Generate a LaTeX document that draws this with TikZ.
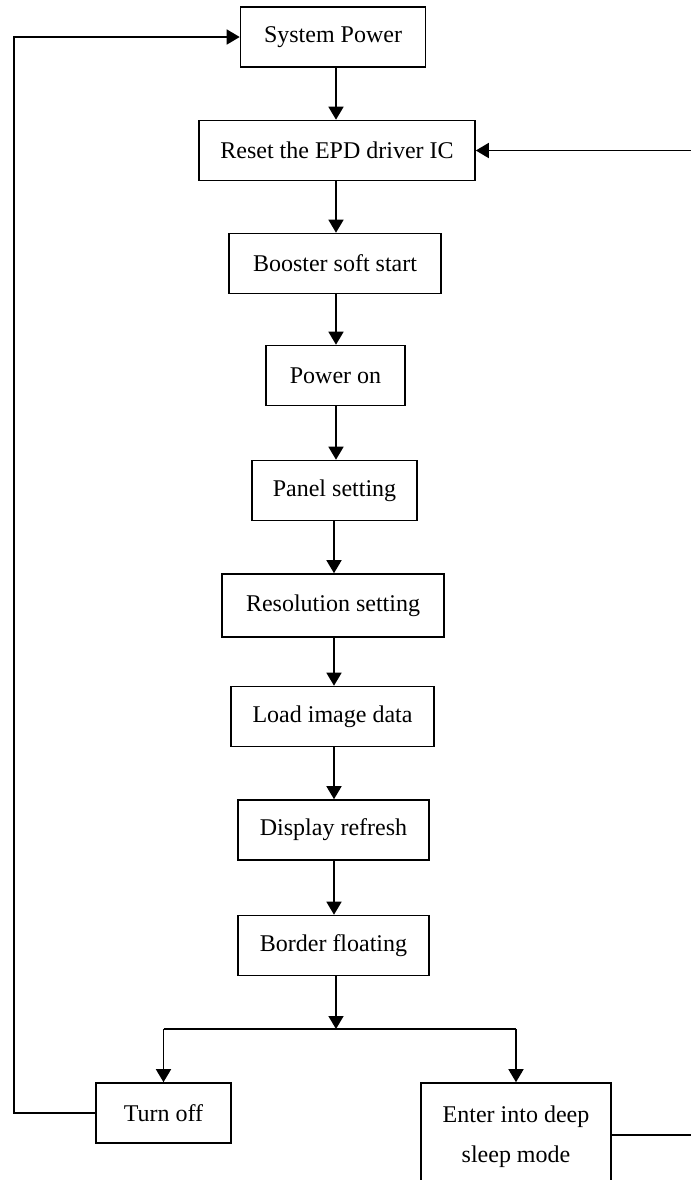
\documentclass[tikz,border=0pt]{standalone}
\usepackage{fontspec}
\setmainfont{Liberation Serif}
\usetikzlibrary{arrows.meta}

\tikzset{
	stepbox/.style={draw, line width=0.8pt, minimum height=30pt, inner sep=0pt,
		font=\fontsize{12}{20}\selectfont, align=center},
	flow/.style={line width=0.8pt, -{Triangle[length=6.5pt,width=7.5pt]}},
	wire/.style={line width=0.8pt}
}

\begin{document}
\begin{tikzpicture}[x=0.5pt,y=-0.5pt]

		\path [use as bounding box] (0,0) rectangle (691,1180);
		\clip (0,0) rectangle (691,1180);

		\node [stepbox, minimum width=92.5pt] (power) at (333,37) {System Power};
		\node [stepbox, minimum width=138pt] (reset) at (337,150.5) {Reset the EPD driver IC};
		\node [stepbox, minimum width=106pt] (booster) at (335,263.5) {Booster soft start};
		\node [stepbox, minimum width=69.5pt] (poweron) at (335.5,375.5) {Power on};
		\node [stepbox, minimum width=82.5pt] (panel) at (334.5,490.5) {Panel setting};
		\node [stepbox, minimum width=111pt, minimum height=31.5pt] (resol) at (333,605.5) {Resolution setting};
		\node [stepbox, minimum width=101.5pt] (load) at (332.5,716.5) {Load image data};
		\node [stepbox, minimum width=95.5pt] (refresh) at (333.5,830) {Display refresh};
		\node [stepbox, minimum width=95.5pt] (border) at (333.5,945.5) {Border floating};
		\node [stepbox, minimum width=67.5pt] (off) at (163.5,1113) {Turn off};
		\node [stepbox, minimum width=95pt, minimum height=54pt] (sleep) at (516,1137) {Enter into deep\\sleep mode};

		\coordinate (J) at (336,1029);
		\coordinate (L) at (14,1113);
		\coordinate (R) at (700,1135);

		\draw [flow] (power.south -| 336,0) -- (reset.north -| 336,0);
		\draw [flow] (reset.south -| 336,0) -- (booster.north -| 336,0);
		\draw [flow] (booster.south -| 336,0) -- (poweron.north -| 336,0);
		\draw [flow] (poweron.south -| 336,0) -- (panel.north -| 336,0);
		\draw [flow] (panel.south -| 334,0) -- (resol.north -| 334,0);
		\draw [flow] (resol.south -| 334,0) -- (load.north -| 334,0);
		\draw [flow] (load.south -| 334,0) -- (refresh.north -| 334,0);
		\draw [flow] (refresh.south -| 334,0) -- (border.north -| 334,0);
		\draw [flow] (border.south -| J) -- (J);

		\draw [wire] (J -| off.north) -- (J -| sleep.north);
		\draw [flow] (J -| off.north) -- (off.north);
		\draw [flow] (J -| sleep.north) -- (sleep.north);

		% loops back
		\draw [flow] (off.west) -- (L) |- (power.west);
		\draw [flow] (sleep.east |- R) -- (R) |- (reset.east);

\end{tikzpicture}
\end{document}
